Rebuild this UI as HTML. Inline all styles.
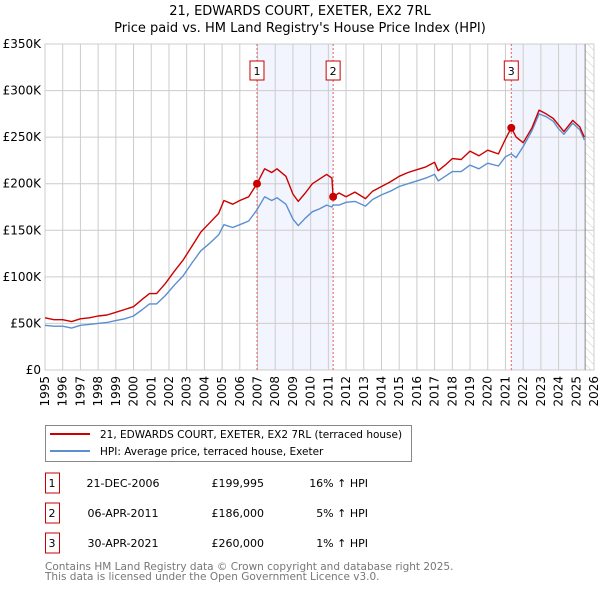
<!DOCTYPE html>
<html><head><meta charset="utf-8"><style>
body{margin:0;background:#fff;font-family:"Liberation Sans","DejaVu Sans",sans-serif;}
svg text{font-family:"DejaVu Sans","Liberation Sans",sans-serif;}
</style></head><body>
<svg id="c" width="600" height="590" xmlns="http://www.w3.org/2000/svg">
<defs><pattern id="hatch" width="6" height="6" patternUnits="userSpaceOnUse" patternTransform="rotate(-45)"><line x1="0" y1="0" x2="0" y2="6" stroke="#ccc" stroke-width="1"/></pattern></defs>
<text x="300" y="15" text-anchor="middle" font-size="13">21, EDWARDS COURT, EXETER, EX2 7RL</text>
<text x="300" y="32" text-anchor="middle" font-size="13">Price paid vs. HM Land Registry's House Price Index (HPI)</text>
<g id="plot"></g>
<g>
<rect x="45.5" y="425.5" width="366" height="36" fill="#fff" stroke="#888"/>
<line x1="50" y1="434" x2="90" y2="434" stroke="#cc0000" stroke-width="2"/>
<text x="100" y="438" font-size="10.5">21, EDWARDS COURT, EXETER, EX2 7RL (terraced house)</text>
<line x1="50" y1="451" x2="90" y2="451" stroke="#5b8fd0" stroke-width="2"/>
<text x="100" y="455" font-size="10.5">HPI: Average price, terraced house, Exeter</text>
</g>
<g id="table" font-size="11"></g>
<text x="45" y="570" font-size="10.5" fill="#777">Contains HM Land Registry data © Crown copyright and database right 2025.</text>
<text x="45" y="580" font-size="10.5" fill="#777">This data is licensed under the Open Government Licence v3.0.</text>
</svg>
<script>
const years=[1995.0,1995.5,1996.0,1996.5,1997.0,1997.5,1998.0,1998.5,1999.0,1999.5,2000.0,2000.5,2000.9,2001.3,2001.8,2002.3,2002.8,2003.3,2003.8,2004.3,2004.8,2005.1,2005.6,2006.0,2006.5,2006.97,2007.4,2007.8,2008.1,2008.6,2009.0,2009.3,2009.7,2010.1,2010.5,2010.9,2011.2,2011.27,2011.6,2012.0,2012.5,2013.1,2013.5,2014.0,2014.5,2015.0,2015.5,2016.0,2016.5,2017.0,2017.2,2017.6,2018.0,2018.5,2019.0,2019.5,2020.0,2020.6,2021.0,2021.33,2021.6,2022.0,2022.5,2022.9,2023.3,2023.7,2024.0,2024.3,2024.8,2025.2,2025.45];
const hpi=[48,47,47,45,48,49,50,51,53,55,58,65,71,71,80,91,101,115,128,136,145,156,153,156,160,172,186,182,185,178,162,155,163,170,173,177,175,177,177,180,181,176,183,188,192,197,200,203,206,210,203,208,213,213,220,216,222,219,229,232,228,240,257,275,272,267,259,253,265,258,247];
const price=[56,54,54,52,55,56,58,59,62,65,68,76,82,82,93,106,118,133,148,158,168,182,178,182,186,200,216,212,216,208,189,181,190,200,205,210,206,186,190,186,191,184,192,197,202,208,212,215,218,223,214,220,227,226,235,230,236,232,248,260,250,244,260,279,275,270,263,256,268,261,250];
const saleYears=[2006.97,2011.27,2021.33];
const saleValues=[199.995,186,260];
const saleLabels=["1","2","3"];
const saleDates=["21-DEC-2006","06-APR-2011","30-APR-2021"];
const salePrices=["£199,995","£186,000","£260,000"];
const salePct=["16% ↑ HPI","5% ↑ HPI","1% ↑ HPI"];
const yTicks=[0,50,100,150,200,250,300,350];
const yTickLabels=["£0","£50K","£100K","£150K","£200K","£250K","£300K","£350K"];
const xTicks=[1995,1996,1997,1998,1999,2000,2001,2002,2003,2004,2005,2006,2007,2008,2009,2010,2011,2012,2013,2014,2015,2016,2017,2018,2019,2020,2021,2022,2023,2024,2025,2026];
const dataEnd=2025.5;

const X0=45,X1=594,Y0=370,Y1=44;
const xs=y=>X0+(y-1995)/(2026-1995)*(X1-X0);
const ys=v=>Y0-v/350*(Y0-Y1);
const NS="http://www.w3.org/2000/svg";
const plot=document.getElementById('plot');
function mk(tag,attrs,parent){const e=document.createElementNS(NS,tag);for(const k in attrs)e.setAttribute(k,attrs[k]);(parent||plot).appendChild(e);return e;}

let s=mk('rect',{x:xs(saleYears[0]),y:Y1,width:xs(saleYears[1])-xs(saleYears[0]),height:Y0-Y1,fill:'#f2f5fd'});


s=mk('rect',{x:xs(saleYears[2]),y:Y1,width:xs(dataEnd)-xs(saleYears[2]),height:Y0-Y1,fill:'#f2f5fd'});


s=mk('rect',{x:xs(dataEnd),y:Y1,width:X1-xs(dataEnd),height:Y0-Y1,fill:'url(#hatch)'});



xTicks.forEach((t,i)=>{
  const g=mk('line',{x1:xs(t),x2:xs(t),y1:Y1,y2:Y0,stroke:'#ccc','stroke-width':1});
  
  
  const x=xs(t);
  const tx=mk('text',{x:0,y:0,'font-size':12,'text-anchor':'end',transform:`translate(${x+4},${Y0+6}) rotate(-90)`});
  tx.textContent=t;
  
  
});
yTicks.forEach((t,i)=>{
  const g=mk('line',{x1:X0,x2:X1,y1:ys(t),y2:ys(t),stroke:'#ccc','stroke-width':1});
  
  
  const tx=mk('text',{x:X0-4,y:ys(t)+4,'font-size':12,'text-anchor':'end'});
  tx.textContent=yTickLabels[i];
  
  
});
let b=mk('rect',{x:X0,y:Y1,width:X1-X0,height:Y0-Y1,fill:'none',stroke:'#ccc'});


let el=mk('line',{x1:xs(dataEnd),x2:xs(dataEnd),y1:Y1,y2:Y0,stroke:'#888','stroke-width':1});



saleYears.forEach((y,i)=>{
  const l=mk('line',{x1:xs(y),x2:xs(y),y1:Y1,y2:Y0,stroke:'#e06060','stroke-dasharray':'2,2','stroke-width':1});
  
  
  const r=mk('rect',{x:xs(y)-7,y:61,width:14,height:19,fill:'#fff',stroke:'#cc0000'});
  
  
  const t=mk('text',{x:xs(y),y:75,'font-size':11,'text-anchor':'middle'});
  t.textContent=saleLabels[i];
  
  
});

function line(vals,color,name){
  const d=years.map((y,i)=>(i?'L':'M')+xs(y).toFixed(1)+','+ys(vals[i]).toFixed(1)).join('');
  const p=mk('path',{d:d,fill:'none',stroke:color,'stroke-width':1.4,'stroke-linejoin':'round'});
  
  
}
line(hpi,'#5b8fd0','hpi-line');
line(price,'#cc0000','price-line');
saleYears.forEach((y,i)=>{
  const c=mk('circle',{cx:xs(y),cy:ys(saleValues[i]),r:4,fill:'#cc0000'});
  
  
});

const tb=document.getElementById('table');
saleLabels.forEach((l,i)=>{
  const yy=483+i*30;
  const r=mk('rect',{x:45.5,y:yy-10,width:14,height:20,fill:'#fff',stroke:'#cc0000'},tb);
  
  
  const cells=[[52,l,'middle','table-row-number'],[123,saleDates[i],'middle','table-row-date'],[264,salePrices[i],'end','table-row-price'],[368,salePct[i],'end','table-row-hpi-change']];
  cells.forEach(c=>{
    const t=mk('text',{x:c[0],y:yy+4,'text-anchor':c[2]},tb);
    t.textContent=c[1];
    
    
  });
});
</script>
</body></html>
